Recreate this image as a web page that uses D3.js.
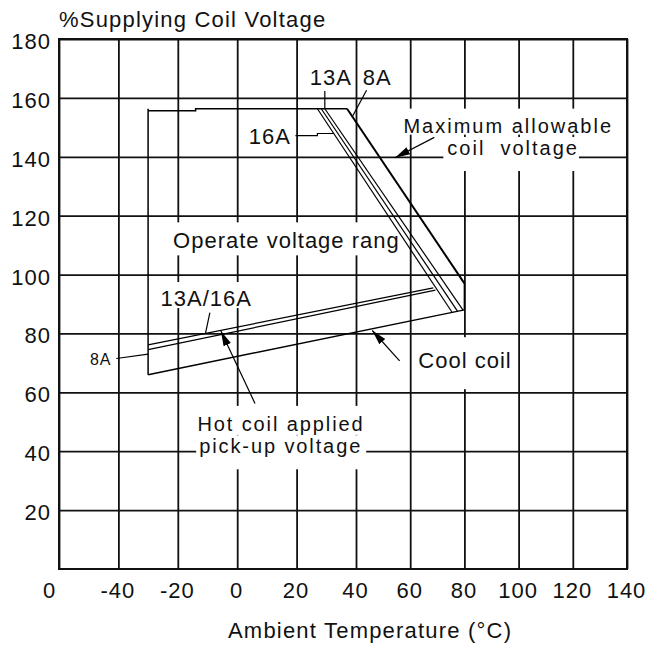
<!DOCTYPE html>
<html><head><meta charset="utf-8">
<script src="https://cdn.jsdelivr.net/npm/d3@7"></script>
<style>
body{margin:0;background:#fff}
svg{display:block}
text{font-family:"Liberation Sans",Arial,sans-serif;fill:#111}
</style>
</head><body>
<svg id="chart" width="648" height="645"></svg>
<script>
// ---------------- data ----------------
const xTickValues = [-60, -40, -20, 0, 20, 40, 60, 80, 100, 120, 140];
const xTickLabels = ["0", "-40", "-20", "0", "20", "40", "60", "80", "100", "120", "140"];
const yTickValues = [20, 40, 60, 80, 100, 120, 140, 160, 180];
const yTickLabels = ["20", "40", "60", "80", "100", "120", "140", "160", "180"];

// curves: [temperature °C, % supplying coil voltage]
const operateTop   = [[-30, 155.6], [-14, 155.6], [-14, 156.3], [37, 156.3]];
const operateLeft  = [[-30, 156.3], [-30, 66]];
const coolCoil     = [[-30, 66], [80, 88]];
const maxAllowable = [[37, 156.3], [80, 97]];
const rightEdge    = [[80, 97], [80, 88]];
const diag16A      = [[27, 156.3], [75.5, 87.1]];
const diag13A      = [[28.3, 156.3], [77.5, 87.5]];
const diag13Ab     = [[29.5, 156.3], [79.5, 87.9]];
const hot13A16A    = [[-30, 76.1], [68.5, 95.5]];
const hot8A        = [[-30, 74.5], [69.3, 94.7]];

// leader lines and arrows (data units)
const pointer13A16A = [[-9.2, 87.1], [-10.7, 79.9]];
const pointer13A    = [[29.5, 162.3], [29.5, 156.3]];
const pointer8ATop  = [[43.9, 162.6], [38.7, 153.5]];
const pointer16A    = [[19.6, 147.2], [27, 147.2], [27, 147.9], [32.6, 147.9]];
const pointer8ALeft = [[-40.7, 71.5], [-30, 73]];
const arrowMax  = [[68.9, 146.6], [54.4, 139.7]];
const arrowCool = [[56.1, 70.7], [46, 81]];
const arrowHot  = [[6, 56.2], [-5.5, 80.8]];

// annotation texts (multi-line labels as arrays of lines)
const labelTexts = [["Operate voltage rang"], ["13A/16A"], ["13A"], ["8A"], ["16A"],
  ["Maximum allowable", "coil  voltage"], ["Cool coil"],
  ["Hot coil applied", "pick-up voltage"], ["8A"]];
// anchor of each line's start/baseline, in data units
const labelAnchors = [[[-21.6, 108.9]], [[-25.8, 89.3]], [[24.4, 164.3]], [[42.5, 164.3]], [[3.9, 144.3]],
  [[57.5, 148.2], [73.7, 140.6]], [[63, 68.2]],
  [[-13.4, 46.9], [-12.8, 39.3]], [[-49.6, 69.3]]];

const titleText = "%Supplying Coil Voltage";
const xTitleText = "Ambient Temperature (°C)";

// ---------------- layout ----------------
const plotLeft = 59, plotRight = 627, plotTop = 39, plotBottom = 569;
const svg = d3.select("#chart");

// the reference grid is hand drawn; a piecewise-linear scale follows it
const x = d3.scaleLinear().domain([-60, 40, 140]).range([plotLeft, 356, plotRight]);
const y = d3.scaleLinear().domain([0, 180]).range([plotBottom, plotTop]);

const gridColor = "#111";
const fontFam = '"Liberation Sans",Arial,sans-serif';

// x grid + labels
const gx = svg.append("g").attr("transform", `translate(0,${plotBottom})`)
  .call(d3.axisBottom(x).tickValues(xTickValues)
    .tickSize(-(plotBottom - plotTop)).tickPadding(13)
    .tickFormat((d, i) => xTickLabels[i]));
gx.select(".domain").remove();
gx.selectAll(".tick line").attr("stroke", gridColor).attr("stroke-width", 1.8);
gx.selectAll(".tick text").attr("font-size", 22).attr("letter-spacing", 1)
  .attr("font-family", fontFam).attr("fill", "#111")
  .attr("dx", (d, i) => i === 0 ? -10 : -1);

// y grid + labels
const gy = svg.append("g").attr("transform", `translate(${plotLeft},0)`)
  .call(d3.axisLeft(y).tickValues(yTickValues)
    .tickSize(-(plotRight - plotLeft)).tickPadding(8)
    .tickFormat((d, i) => yTickLabels[i]));
gy.select(".domain").remove();
gy.selectAll(".tick line").attr("stroke", gridColor).attr("stroke-width", 1.8);
gy.selectAll(".tick text").attr("font-size", 22).attr("letter-spacing", 1)
  .attr("font-family", fontFam).attr("fill", "#111")
  .attr("dy", "0.43em");

// frame
svg.append("rect").attr("x", x(-60)).attr("y", y(180))
  .attr("width", x(140) - x(-60)).attr("height", y(0) - y(180))
  .attr("fill", "none").attr("stroke", gridColor).attr("stroke-width", 2);

// titles
svg.append("text").attr("x", 59).attr("y", 27).attr("font-size", 22)
  .attr("letter-spacing", 1.2).text(titleText);
svg.append("text").attr("x", 228).attr("y", 638).attr("font-size", 22)
  .attr("letter-spacing", 1.2).text(xTitleText);

// annotation labels with white knock-out boxes (pads per line: top,right,bottom,left)
const labelStyle = [
  {size: 22, ls: 1, pad: [[6, 3, 2, 4]]},
  {size: 22, ls: 1, pad: [[4, 3, -3, 3]]},
  {size: 22, ls: 1, pad: null},
  {size: 22, ls: 1, pad: null},
  {size: 22, ls: 1, pad: null},
  {size: 20, ls: 2, pad: [[6, 3, -2, 3], [0, 0, 12, 4]]},
  {size: 22, ls: 1, pad: [[11, 3, 16, 3]]},
  {size: 20, ls: 1.9, pad: [[7, 2, 0, 2], [0, 4, 12, 3]]},
  {size: 16, ls: 1, pad: null}
];
const boxLayer = svg.append("g");
const textLayer = svg.append("g");
labelTexts.forEach((lines, i) => {
  const txt = textLayer.append("text")
    .attr("font-size", labelStyle[i].size).attr("letter-spacing", labelStyle[i].ls)
    .style("white-space", "pre");
  lines.forEach((ln, j) => {
    const ts = txt.append("tspan")
      .attr("x", x(labelAnchors[i][j][0])).attr("y", y(labelAnchors[i][j][1]))
      .text(ln);
    const p = labelStyle[i].pad;
    if (p) {
      const b = ts.node().getBBox();
      boxLayer.append("rect")
        .attr("x", b.x - p[j][3]).attr("y", b.y - p[j][0])
        .attr("width", b.width + p[j][1] + p[j][3]).attr("height", b.height + p[j][0] + p[j][2])
        .attr("fill", "#fff");
    }
  });
});

// curves
const line = d3.line().x(d => x(d[0])).y(d => y(d[1]));
const curves = [
  [operateTop, 1.5], [operateLeft, 1.5], [coolCoil, 1.5], [maxAllowable, 2],
  [rightEdge, 1.5], [diag16A, 1.2], [diag13A, 1.2], [diag13Ab, 1.2],
  [hot13A16A, 1.2], [hot8A, 1.2]
];
svg.append("g").selectAll("path").data(curves).join("path")
  .attr("d", d => line(d[0])).attr("fill", "none")
  .attr("stroke", "#000").attr("stroke-width", d => d[1]);

// leaders
svg.append("g").selectAll("path")
  .data([pointer13A16A, pointer13A, pointer8ATop, pointer16A, pointer8ALeft])
  .join("path").attr("d", line).attr("fill", "none")
  .attr("stroke", "#000").attr("stroke-width", 1.2);

// arrows
svg.append("defs").append("marker").attr("id", "ah")
  .attr("markerUnits", "userSpaceOnUse")
  .attr("markerWidth", 16).attr("markerHeight", 10)
  .attr("refX", 15).attr("refY", 5).attr("orient", "auto")
  .append("path").attr("d", "M0,1 L15,5 L0,9 Z").attr("fill", "#000");
svg.append("g").selectAll("path")
  .data([arrowMax, arrowCool, arrowHot])
  .join("path").attr("d", line).attr("fill", "none")
  .attr("stroke", "#000").attr("stroke-width", 1.2)
  .attr("marker-end", "url(#ah)");
</script>
</body></html>
